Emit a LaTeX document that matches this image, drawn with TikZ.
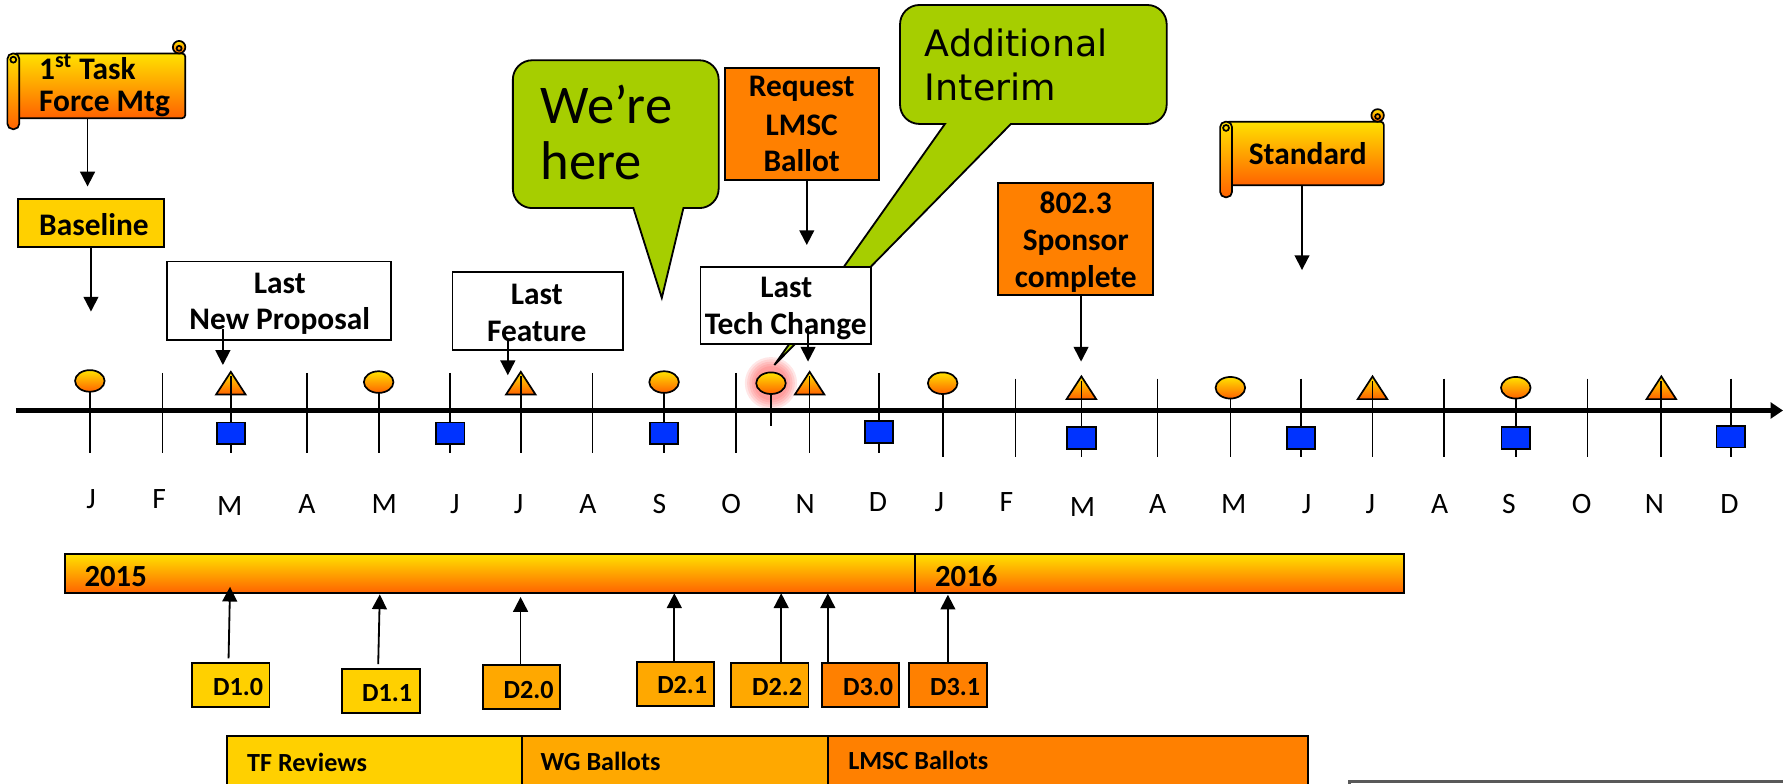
\documentclass[tikz,border=0pt]{standalone}
\usepackage{fontspec}
\setmainfont{Carlito}
\newfontfamily\dejavu{DejaVu Sans}
\usetikzlibrary{arrows.meta}
\definecolor{ytop}{RGB}{255,226,0}
\definecolor{ybot}{RGB}{255,98,0}
\definecolor{yel}{RGB}{255,208,0}
\definecolor{amber}{RGB}{255,168,0}
\definecolor{orng}{RGB}{255,128,0}
\definecolor{lime}{RGB}{166,206,0}
\definecolor{mblue}{RGB}{0,51,255}
\newcommand\bx[6][]{\node[box,#1,minimum width={(#5-#3)*0.5pt},minimum height={(#6-#4)*0.5pt}] (#2) at ({(#3+#5)/2},{(#4+#6)/2}) {};}
\newcommand\scrollshape[5]{%
  \shade[grad,rounded corners=1.5pt] (#1+5,#2) rectangle (#3,#4);
  \shade[grad] (#3-5.5,#2-5.5) circle (5.5);
  \draw[line width=0.75pt] (#3-5.5,#2-4.5) circle (2.2);
  \shade[grad,rounded corners=2.4pt] (#1,#2) rectangle (#1+10.5,#5);
  \draw[line width=0.75pt] (#1+5.2,#2+5.5) circle (2.6);
}
\begin{document}
\begin{tikzpicture}[x=0.5pt,y=-0.5pt,
  stemline/.style={line width=0.75pt},
  arr/.style={line width=0.8pt,-{Triangle[length=6.5pt,width=6.5pt]}},
  grad/.style={top color=ytop,bottom color=ybot,draw=black,line width=0.75pt},
  box/.style={draw=black,line width=0.8pt,inner sep=0pt,rectangle},
  sq/.style={fill=mblue,draw=black,line width=0.8pt},
  bl/.style={inner sep=0pt,anchor=base,font=\fontsize{13.8}{16}\selectfont\bfseries},
  blw/.style={bl,anchor=base west},
  dl/.style={inner sep=0pt,anchor=base west,font=\fontsize{11.5}{13}\selectfont\bfseries},
  mon/.style={inner sep=0pt,anchor=base,font=\fontsize{13}{15}\selectfont},
  yrl/.style={inner sep=0pt,anchor=base west,font=\fontsize{13.5}{15}\selectfont\bfseries},
  callout/.style={fill=lime,draw=black,line width=0.8pt}
]
\useasboundingbox (0,0) rectangle (1568,689);
\clip (0,0) rectangle (1568,689);

% glow behind the current meeting
\foreach \r in {23,21,19,17,15}
  \fill[red!80!white,opacity=0.12] (678,337) circle (\r);

% ---- month ticks and stems
\foreach \x in {143,270,521,647} \draw[stemline] (\x,328) -- (\x,398);
\foreach \x in {893,1018,1270,1396} \draw[stemline] (\x,333) -- (\x,402);
\foreach \x/\t/\b in {396/328/398,773/328/398,1144/333/402,1522/333/402,
                      79/336/398,333/336/398,584/336/398,829/337/402,1082/341/402,1333/341/402,
                      203/330/398,458/330/398,712/330/398,951/334/402,1207/334/402,1461/334/402}
  \draw[stemline] (\x,\t) -- (\x,\b);
\draw[stemline] (678,337) -- (678,375);

% ---- axis
\coordinate (ax0) at (14,361);
\coordinate (ax1) at (1568,361);
\draw[line width=2pt,-{Triangle[length=5.5pt,width=7pt]}] (ax0) -- (ax1);

% ---- squares
\foreach \x/\s in {203/381,396/381,584/381,773/380,951/385,1144/385,1333/385,1522/384}
  \draw[sq] (\x-12.5,\s-9.5) rectangle (\x+12.5,\s+9.5);
% ---- circles
\foreach \x/\c in {79/335,333/336,584/336,678/337,829/337,1082/341,1333/341}
  \shade[grad] (\x,\c) ellipse (13 and 9.5);
% ---- triangles
\foreach \x/\a in {203/327,458/327,712/327,951/331,1207/331,1461/331}{
  \shade[grad,line join=miter] (\x-13,\a+20) -- (\x,\a) -- (\x+13,\a+20) -- cycle;
  \draw[stemline] (\x,\a+4) -- (\x,\a+20);
}

% ---- month labels
\node[mon] (mJa) at (80,447.5) {J};
\node[mon] (mFa) at (140,447.5) {F};
\node[mon] (mMa) at (202,453) {M};
\node[mon] (mAa) at (270,451.5) {A};
\node[mon] (mMb) at (338,451.5) {M};
\node[mon] (mJb) at (400,451.5) {J};
\node[mon] (mJc) at (456,451.5) {J};
\node[mon] (mAb) at (517,451.5) {A};
\node[mon] (mSa) at (580,451.5) {S};
\node[mon] (mOa) at (643,451.5) {O};
\node[mon] (mNa) at (708,451.5) {N};
\node[mon] (mDa) at (772,449.5) {D};
\node[mon] (mJd) at (826,449.5) {J};
\node[mon] (mFb) at (885,449.5) {F};
\node[mon] (mMc) at (952,454.5) {M};
\node[mon] (mAc) at (1018,451.5) {A};
\node[mon] (mMd) at (1085,451.5) {M};
\node[mon] (mJe) at (1149,451.5) {J};
\node[mon] (mJf) at (1205,451.5) {J};
\node[mon] (mAd) at (1266,451.5) {A};
\node[mon] (mSb) at (1327,451.5) {S};
\node[mon] (mOb) at (1391,451.5) {O};
\node[mon] (mNb) at (1455,451.5) {N};
\node[mon] (mDb) at (1521,451.5) {D};

% ---- scrolls
\scrollshape{6.5}{47}{163}{104}{113.6}
\node[blw] (tft1) at (34,70) {1\textsuperscript{st} Task};
\node[blw] (tft2) at (34,98) {Force Mtg};
\coordinate (tfb) at (77,104);
\coordinate (tfa) at (77,164);
\draw[arr] (tfb) -- (tfa);

\scrollshape{1073}{107}{1217}{163}{173.5}
\node[bl] (stdt) at (1150,145) {Standard};
\coordinate (stb) at (1145,163);
\coordinate (sta) at (1145,237.5);
\draw[arr] (stb) -- (sta);

% ---- Baseline
\bx[fill=yel]{bsl}{16}{175}{144}{217}
\node[bl] (bslt) at (82.6,206.7) {Baseline};
\coordinate (bsla) at (80,274);
\draw[arr] (bsl.south -| bsla) -- (bsla);

% ---- Last New Proposal
\bx[fill=white]{lnp}{147}{230}{344}{299}
\node[bl] (lnpt1) at (246,258) {Last};
\node[bl] (lnpt2) at (246,290) {New Proposal};
\coordinate (lnps) at (196,289);
\coordinate (lnpa) at (196,321);
\draw[arr] (lnps) -- (lnpa);

% ---- Last Feature
\bx[fill=white]{lft}{398}{239}{548}{308}
\node[bl] (lftt1) at (472,268) {Last};
\node[bl] (lftt2) at (472,300.5) {Feature};
\coordinate (lfts) at (446.6,298);
\coordinate (lfta) at (446.6,330);
\draw[arr] (lfts) -- (lfta);

% ---- We're here callout
\filldraw[callout] (557,183) -- (468,183) arc[start angle=90,end angle=180,radius=17]
  -- (451,70) arc[start angle=180,end angle=270,radius=17]
  -- (615,53) arc[start angle=270,end angle=360,radius=17]
  -- (632,166) arc[start angle=0,end angle=90,radius=17]
  -- (601,183) -- (582,262) -- cycle;
\node[inner sep=0pt,anchor=base west,font=\fontsize{24}{25}\selectfont] (wh1) at (475,108.6) {We’re};
\node[inner sep=0pt,anchor=base west,font=\fontsize{24}{25}\selectfont] (wh2) at (475,158) {here};

% ---- Additional Interim callout
\filldraw[callout] (889,109) -- (1009,109) arc[start angle=90,end angle=0,radius=17]
  -- (1026,21.4) arc[start angle=0,end angle=-90,radius=17]
  -- (808.5,4.4) arc[start angle=-90,end angle=-180,radius=17]
  -- (791.5,92) arc[start angle=180,end angle=90,radius=17]
  -- (831,109) -- (681,321) -- cycle;
\node[inner sep=0pt,anchor=base west,font=\dejavu\fontsize{16}{19}\selectfont] (ai1) at (813,50) {Additional};
\node[inner sep=0pt,anchor=base west,font=\dejavu\fontsize{16}{19}\selectfont] (ai2) at (813,88) {Interim};

% ---- Request LMSC Ballot
\bx[fill=orng]{req}{637.6}{60}{773}{158}
\node[bl] (reqt1) at (705,85) {Request};
\node[bl] (reqt2) at (705,119) {LMSC};
\node[bl] (reqt3) at (705,151) {Ballot};
\coordinate (reqa) at (709.5,215.5);
\draw[arr] (req.south -| reqa) -- (reqa);

% ---- Last Tech Change
\bx[fill=white]{ltc}{616}{234.5}{766}{302.5}
\node[bl] (ltct1) at (691.5,262) {Last};
\node[bl] (ltct2) at (691,294.6) {Tech Change};
\coordinate (ltcs) at (710.6,287);
\coordinate (ltca) at (710.6,318);
\draw[arr] (ltcs) -- (ltca);

% ---- 802.3 Sponsor complete
\bx[fill=orng]{spo}{878}{161}{1014}{259.6}
\node[bl] (spot1) at (946,187.7) {802.3};
\node[bl] (spot2) at (946,220.5) {Sponsor};
\node[bl] (spot3) at (946,252.7) {complete};
\coordinate (spoa) at (950.7,318);
\draw[arr] (spo.south -| spoa) -- (spoa);

% ---- year bar
\bx[top color=ytop,bottom color=ybot]{yr}{57}{487}{1235}{521.7}
\coordinate (yd) at (805,500);
\draw[line width=0.8pt] (yr.north -| yd) -- (yr.south -| yd);
\node[yrl] (y15) at (74,516) {2015};
\node[yrl] (y16) at (822,516) {2016};

% ---- drafts
\bx[fill=yel]{d10}{169}{583}{237}{622}
\node[dl] (d10t) at (187,612) {D1.0};
\bx[fill=yel]{d11}{300.5}{588.6}{369}{627}
\node[dl] (d11t) at (318,617) {D1.1};
\bx[fill=amber]{d20}{424.8}{585}{492.7}{623.6}
\node[dl] (d20t) at (442.6,614) {D2.0};
\bx[fill=amber]{d21}{560}{582}{628}{620.6}
\node[dl] (d21t) at (577.6,609.7) {D2.1};
\bx[fill=amber]{d22}{642.8}{583}{711}{622}
\node[dl] (d22t) at (661,612) {D2.2};
\bx[fill=orng]{d30}{723}{583}{790.7}{622}
\node[dl] (d30t) at (741,612) {D3.0};
\bx[fill=orng]{d31}{799.5}{583}{867.7}{622}
\node[dl] (d31t) at (817.5,612) {D3.1};

\coordinate (d10s) at (201,579);   \coordinate (d10a) at (202.3,516);
\coordinate (d11s) at (332.6,584); \coordinate (d11a) at (334,522.7);
\coordinate (d20s) at (457.8,585); \coordinate (d20a) at (457.8,525);
\coordinate (d21s) at (593,582);   \coordinate (d21a) at (593,521.7);
\coordinate (d22s) at (687,583);   \coordinate (d22a) at (687,521.7);
\coordinate (d30s) at (728,583);   \coordinate (d30a) at (728,521.7);
\coordinate (d31s) at (833.6,583); \coordinate (d31a) at (833.6,523);
\foreach \d in {d10,d11,d20,d21,d22,d30,d31}
  \draw[arr] (\d s) -- (\d a);

% ---- phases
\bx[fill=yel]{tfr}{199.6}{647}{459}{710}
\bx[fill=amber]{wgb}{459}{647}{728}{710}
\bx[fill=orng]{lmb}{728}{647}{1150}{710}
\node[dl] (tfrt) at (217,678.6) {TF Reviews};
\node[dl] (wgbt) at (475,678) {WG Ballots};
\node[dl] (lmbt) at (745.6,677) {LMSC Ballots};

% ---- box cut at the lower right
\bx[draw=black!65,line width=1.2pt]{note}{1187}{687}{1620}{760}
\end{tikzpicture}
\end{document}
